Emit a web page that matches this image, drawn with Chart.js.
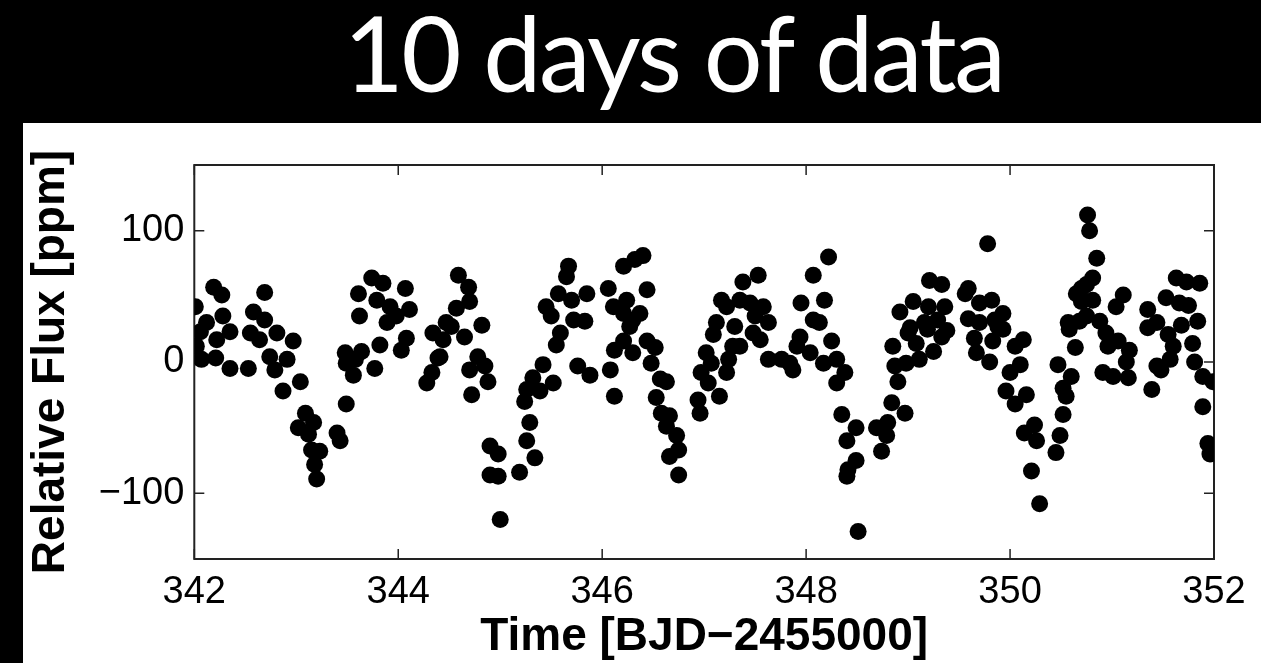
<!DOCTYPE html>
<html>
<head>
<meta charset="utf-8">
<title>10 days of data</title>
<script src="https://cdn.jsdelivr.net/npm/chart.js"></script>
<style>
  html, body { margin: 0; padding: 0; background: #000; overflow: hidden; }
  body { width: 1261px; height: 663px; position: relative; }
  #title {
    position: absolute; left: 173px; top: 0; width: 1001px;
    text-align: center; color: #fff;
    font-family: Lato, 'Open Sans', sans-serif; font-weight: 400; font-size: 104px; line-height: 1;
    letter-spacing: -2.5px; white-space: nowrap;
  }
  #panel { position: absolute; left: 23px; top: 123px; width: 1238px; height: 540px; background: #fff; }
</style>
</head>
<body>
<div id="title">10 days of data</div>
<div id="panel"><canvas id="flux-chart" width="1238" height="540"></canvas></div>
<script>
// Time stamps (BJD - 2455000) and relative flux (ppm)
const times = [
  342.01, 342.02, 342.06, 342.07, 342.12, 342.19, 342.21, 342.22, 342.27, 342.28,
  342.35, 342.35, 342.53, 342.55, 342.58, 342.64, 342.69, 342.69, 342.74, 342.79,
  342.81, 342.87, 342.91, 342.97, 343.02, 343.04, 343.09, 343.12, 343.15, 343.17,
  343.18, 343.20, 343.23, 343.40, 343.43, 343.48, 343.49, 343.49, 343.56, 343.58,
  343.61, 343.62, 343.64, 343.74, 343.77, 343.79, 343.82, 343.85, 343.89, 343.92,
  343.98, 344.03, 344.07, 344.08, 344.11, 344.28, 344.33, 344.34, 344.39, 344.41,
  344.44, 344.47, 344.52, 344.57, 344.59, 344.65, 344.69, 344.70, 344.70, 344.72,
  344.78, 344.82, 344.85, 344.88, 344.90, 344.90, 344.98, 344.98, 345.00, 345.19,
  345.24, 345.26, 345.26, 345.29, 345.32, 345.34, 345.39, 345.42, 345.45, 345.50,
  345.52, 345.55, 345.57, 345.59, 345.65, 345.67, 345.70, 345.72, 345.76, 345.83,
  345.85, 345.88,
  346.06, 346.08, 346.11, 346.12, 346.12, 346.21, 346.21, 346.21, 346.24, 346.27,
  346.30, 346.30, 346.32, 346.37, 346.40, 346.44, 346.44, 346.48, 346.52, 346.53,
  346.57, 346.58, 346.63, 346.63, 346.66, 346.66, 346.73, 346.75, 346.75, 346.94,
  346.96, 346.97, 347.02, 347.04, 347.07, 347.09, 347.12, 347.15, 347.17, 347.22,
  347.22, 347.24, 347.28, 347.30, 347.35, 347.35, 347.38, 347.45, 347.48, 347.50,
  347.53, 347.55, 347.58, 347.63, 347.63, 347.76, 347.84, 347.87, 347.91, 347.94,
  347.95, 348.04, 348.07, 348.07, 348.13, 348.17, 348.18, 348.22, 348.25, 348.30,
  348.30, 348.35, 348.38, 348.40, 348.40, 348.41, 348.49, 348.49, 348.51, 348.69,
  348.74, 348.79, 348.80, 348.84, 348.85, 348.87, 348.90, 348.92, 348.97, 348.98,
  349.00, 349.02, 349.05, 349.08, 349.11, 349.16, 349.19, 349.20, 349.21, 349.25,
  349.29, 349.33, 349.33, 349.36, 349.38, 349.56, 349.59, 349.59, 349.65, 349.67,
  349.70, 349.70, 349.78, 349.80, 349.82, 349.83, 349.85, 349.88, 349.93, 349.93,
  349.96, 350.00, 350.05, 350.05, 350.10, 350.13, 350.14, 350.16, 350.21, 350.24,
  350.26, 350.29,
  350.45, 350.47, 350.49, 350.52, 350.52, 350.55, 350.57, 350.58, 350.60, 350.64,
  350.65, 350.68, 350.70, 350.70, 350.75, 350.75, 350.76, 350.78, 350.81, 350.81,
  350.85, 350.88, 350.91, 350.94, 350.96, 351.01, 351.04, 351.06, 351.11, 351.14,
  351.16, 351.17, 351.35, 351.35, 351.39, 351.44, 351.44, 351.48, 351.53, 351.55,
  351.57, 351.60, 351.63, 351.66, 351.68, 351.73, 351.75, 351.79, 351.81, 351.84,
  351.86, 351.89, 351.89, 351.94, 351.96, 351.99
];

const flux = [
  42, 12, 23, 2, 30, 57, 3, 17, 51, 35,
  23, -5, -5, 22, 38, 17, 53, 32, 4, -6,
  22, -22, 2, 16, -50, -15, -39, -55, -67, -46,
  -78, -89, -68, -54, -60, 7, -32, -1, -10, 2,
  52, 35, 8, 64, -5, 47, 13, 60, 30, 42,
  35, 9, 56, 18, 40, -16, -8, 22, 3, 4,
  17, 30, 27, 41, 66, 19, 57, 46, -6, -25,
  4, 28, -3, -15, -64, -86, -70, -87, -120, -84,
  -30, -21, -60, -46, -12, -73, -22, -2, 42, 35,
  -16, 13, 52, 22, 65, 73, 47, 32, -3, 31,
  52, -10,
  56, -6, 42, 9, -26, 37, 73, 16, 47, 27,
  32, 7, 78, 37, 81, 55, 16, -1, 11, -27,
  -13, -39, -15, -49, -41, -72, -56, -67, -86, -29,
  -39, -8, 7, -16, -1, 21, 30, -26, 47, 42,
  -8, 2, 12, 27, 47, 12, 61, 45, 22, 35,
  66, 17, 42, 30, 2, 2, -1, -6, 12, 19,
  45, 7, 66, 32, 30, -1, 47, 80, 16, 2,
  -16, -40, -8, -60, -87, -82, -50, -75, -129, -50,
  -68, -56, -46, -31, 12, -3, -15, 38, -39, -1,
  22, 26, 46, 14, 2, 30, 25, 42, 62, 8,
  32, 59, 19, 42, 24, 52, 56, 33, 18, 7,
  30, 45, 90, 0, 47, 16, 32, 27, 37, 25,
  -22, -8, 12, -32, -2, 17, -54, -25, -83, -48,
  -60, -108,
  -69, -2, -56, -20, -40, -26, 30, 25, -11, 11,
  52, 31, 56, 46, 59, 35, 112, 100, 47, 64,
  79, 31, -8, 22, 12, -11, 42, 16, 51, 0,
  -12, 9, 40, 26, -21, 30, -3, -6, 49, 21,
  2, 12, 64, 45, 28, 61, 43, 14, 0, 31,
  60, -11, -34, -62, -70, -15
];

const xTicks = [342, 344, 346, 348, 350, 352];
const yTicks = [-100, 0, 100];

const points = times.map((t, i) => ({ x: t, y: flux[i] }));

// box around the plot with inward tick marks on all four sides
const boxFrame = {
  id: 'boxFrame',
  beforeDatasetsDraw(chart) {
    const { ctx, chartArea: a, scales } = chart;
    const len = 10;
    ctx.save();
    ctx.strokeStyle = '#222';
    ctx.lineWidth = 1.5;
    ctx.beginPath();
    xTicks.forEach(v => {
      const px = scales.x.getPixelForValue(v);
      ctx.moveTo(px, a.bottom); ctx.lineTo(px, a.bottom - len);
      ctx.moveTo(px, a.top); ctx.lineTo(px, a.top + len);
    });
    yTicks.forEach(v => {
      const py = scales.y.getPixelForValue(v);
      ctx.moveTo(a.left, py); ctx.lineTo(a.left + len, py);
      ctx.moveTo(a.right, py); ctx.lineTo(a.right - len, py);
    });
    ctx.stroke();
    ctx.lineWidth = 2;
    ctx.strokeRect(a.left, a.top, a.right - a.left, a.bottom - a.top);
    ctx.restore();
  }
};

const tickFont = { family: 'Liberation Sans', size: 38 };
const titleFont = { family: 'Liberation Sans', size: 46, weight: 'bold' };

const ctx = document.getElementById('flux-chart').getContext('2d');
new Chart(ctx, {
  type: 'scatter',
  data: {
    datasets: [{
      label: 'Relative Flux',
      data: points,
      backgroundColor: '#000',
      borderWidth: 0,
      pointRadius: 8.5
    }]
  },
  options: {
    responsive: false,
    animation: false,
    layout: { padding: { left: 0, right: 47, top: 42, bottom: 0 } },
    plugins: {
      legend: { display: false },
      tooltip: { enabled: false }
    },
    scales: {
      x: {
        type: 'linear',
        min: 342,
        max: 352,
        afterBuildTicks: s => { s.ticks = xTicks.map(v => ({ value: v })); },
        afterFit: s => { s.height = 104; },
        grid: { display: false, drawTicks: false },
        border: { display: false },
        ticks: { color: '#000', font: tickFont, padding: 11, maxRotation: 0, autoSkip: false },
        title: {
          display: true,
          text: 'Time [BJD\u22122455000]',
          color: '#000',
          font: titleFont,
          padding: { top: 0, bottom: -2 }
        }
      },
      y: {
        min: -150,
        max: 150,
        afterBuildTicks: s => { s.ticks = yTicks.map(v => ({ value: v })); },
        afterFit: s => { s.width = 171.3; },
        grid: { display: false, drawTicks: false },
        border: { display: false },
        ticks: {
          color: '#000',
          font: tickFont,
          padding: 10,
          callback: v => (v < 0 ? '\u2212' + Math.abs(v) : String(v))
        },
        title: {
          display: true,
          text: 'Relative Flux [ppm]',
          color: '#000',
          font: titleFont,
          padding: { top: 1, bottom: 0 }
        }
      }
    }
  },
  plugins: [boxFrame]
});
</script>
</body>
</html>
